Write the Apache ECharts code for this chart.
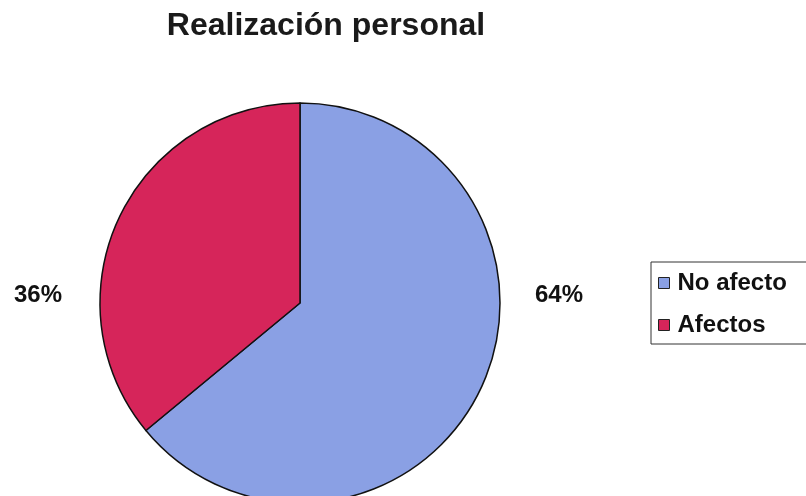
<!DOCTYPE html>
<html>
<head>
<meta charset="utf-8">
<script src="https://cdn.jsdelivr.net/npm/echarts@6/dist/echarts.min.js"></script>
<style>
  html, body { margin: 0; padding: 0; background: #fff; }
  #chart { width: 806px; height: 496px; }
</style>
</head>
<body>
<div id="chart"></div>
<script>
// datos del gráfico
const categorias = ['No afecto', 'Afectos']
const valores = [64, 36]
const colores = ['#8AA0E4', '#D6255A']

const chart = echarts.init(document.getElementById('chart'))

const cx = 300, cy = 303  // centro del pastel

chart.setOption({
  backgroundColor: '#fff',
  title: {
    text: 'Realización personal',
    left: 321,
    textAlign: 'center',
    top: 5,
    textStyle: {
      fontFamily: 'Liberation Sans, Arial, sans-serif',
      fontSize: 32,
      fontWeight: 'bold',
      color: '#1a1a1a'
    }
  },
  legend: {
    orient: 'vertical',
    left: 651,
    top: 262,
    padding: [9, 30, 7, 7],
    borderColor: '#333',
    borderWidth: 1,
    itemWidth: 11,
    itemHeight: 11,
    itemGap: 18,
    icon: 'rect',
    itemStyle: { borderColor: '#222', borderWidth: 1 },
    textStyle: {
      fontFamily: 'Liberation Sans, Arial, sans-serif',
      fontSize: 24,
      fontWeight: 'bold',
      color: '#111',
      padding: [0, 0, 0, 3]
    },
    data: categorias
  },
  series: [
    {
      type: 'pie',
      center: [cx, cy],
      radius: 200,
      startAngle: 90,
      clockwise: true,
      silent: true,
      itemStyle: { borderColor: '#111', borderWidth: 1.5 },
      label: {
        show: true,
        position: 'outside',
        formatter: '{d}%',
        fontFamily: 'Liberation Sans, Arial, sans-serif',
        fontSize: 24,
        fontWeight: 'bold',
        color: '#111'
      },
      labelLine: { show: false },
      labelLayout: function (params) {
        return {
          x: params.dataIndex === 0 ? cx + 259 : cx - 262,
          y: 295,
          align: 'center',
          verticalAlign: 'middle'
        }
      },
      data: categorias.map((name, i) => ({
        name: name,
        value: valores[i],
        itemStyle: { color: colores[i] }
      }))
    }
  ]
})
</script>
</body>
</html>
